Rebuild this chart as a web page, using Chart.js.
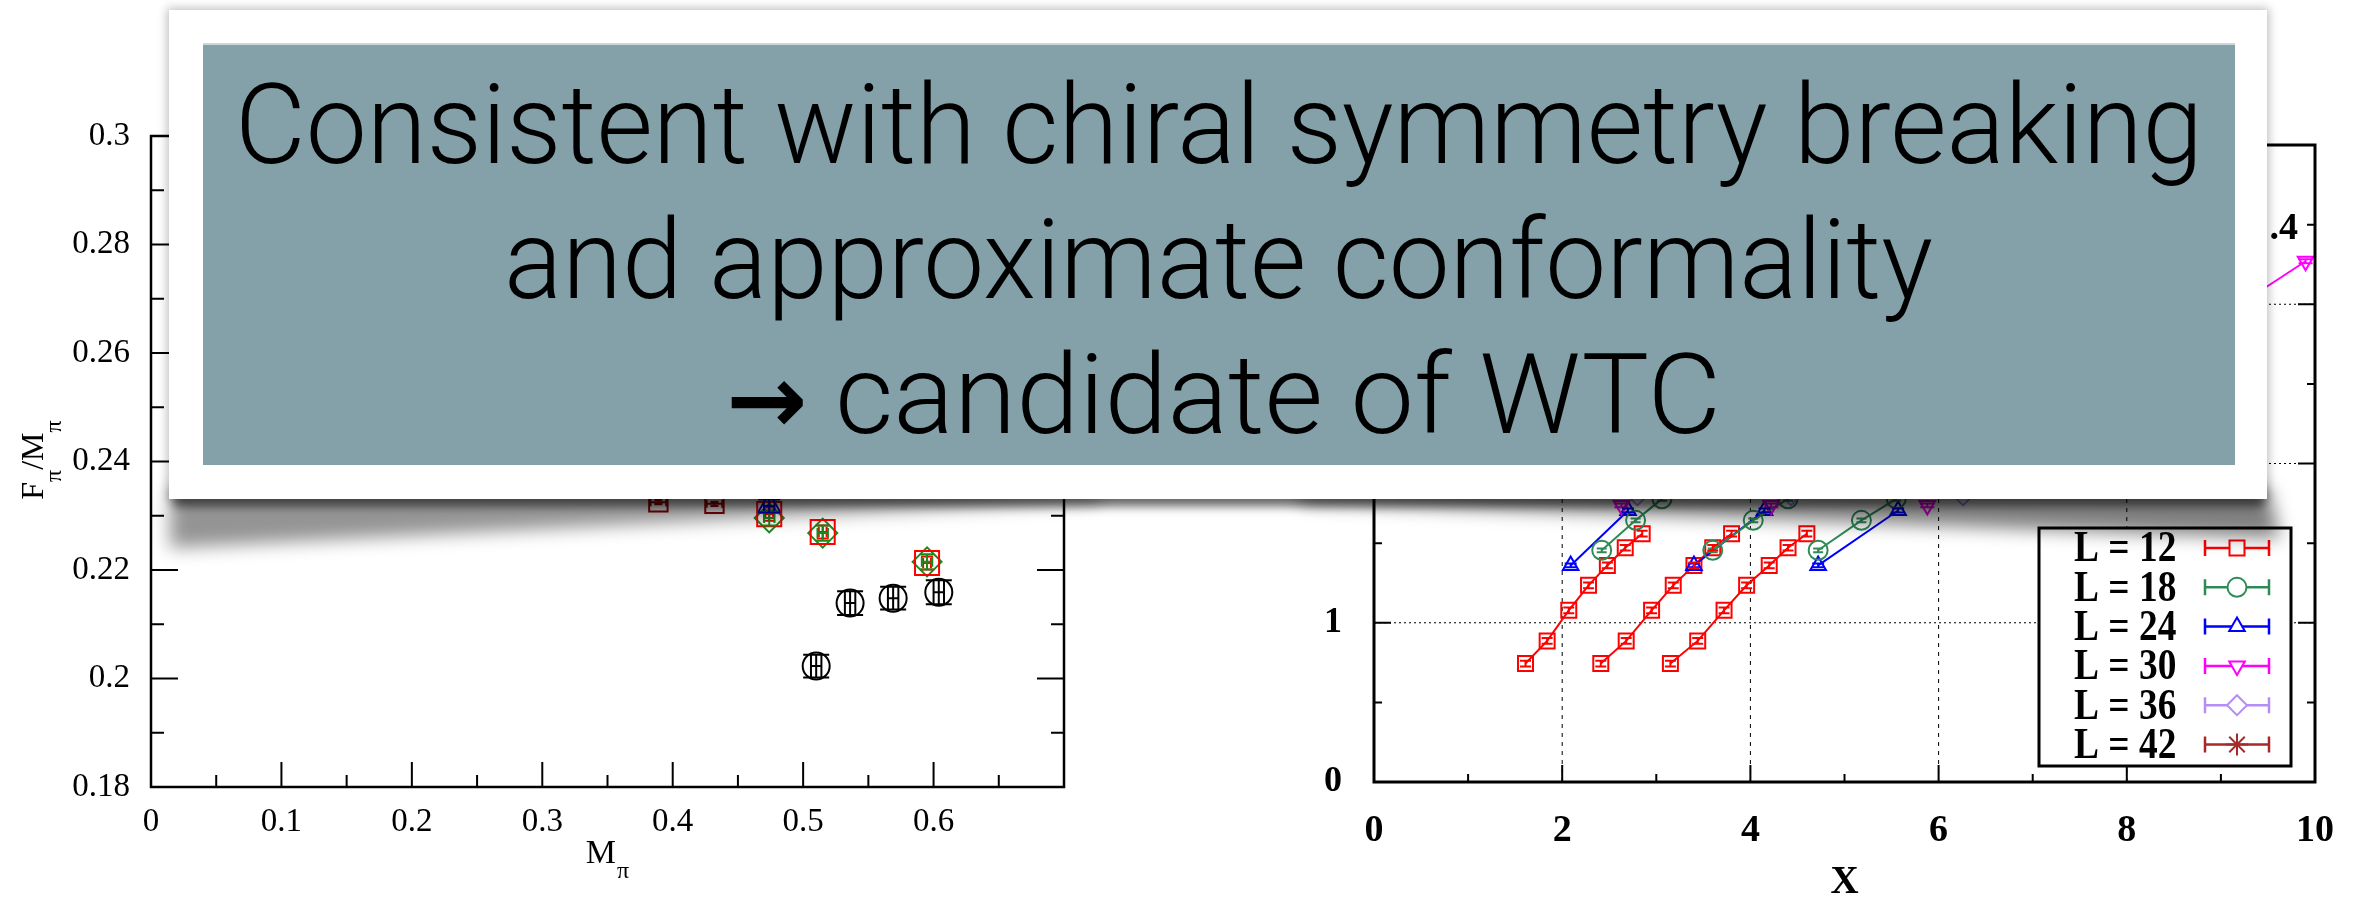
<!DOCTYPE html>
<html>
<head>
<meta charset="utf-8">
<script src="https://cdn.jsdelivr.net/npm/chart.js@4.4.1/dist/chart.umd.min.js"></script>
<style>
  html, body { margin: 0; padding: 0; background: #fff; width: 2372px; height: 897px; overflow: hidden; }
  canvas { position: absolute; top: 0; }
  #left { left: 0; }
  #right { left: 1160px; }
  .wrap { position: absolute; left: 0; top: 0; width: 2372px; height: 897px; }
  .wrap div { position: absolute; left: 0; top: 0; width: 2372px; height: 897px; }
  #frame { position: absolute; left: 169px; top: 10px; width: 2098px; height: 489px; background: #fff;
           box-shadow: 0 0 9px 2px rgba(0,0,0,0.25); }
  #panel { position: absolute; left: 203px; top: 43px; width: 2032px; height: 422px; background: #84a1aa;
           border-top: 2px solid #c9d6da; box-sizing: border-box; }
  .line { position: absolute; left: 0; top: 0; white-space: nowrap; color: #000;
          font-family: Roboto, "Liberation Sans", sans-serif; font-weight: 300; font-size: 112px;
          line-height: 1; transform-origin: 0 0; }
  .arrow { font-family: "DejaVu Sans", sans-serif; font-weight: bold; font-size: 96px; }
</style>
</head>
<body>
<canvas id="left" width="1160" height="897"></canvas>
<canvas id="right" width="1212" height="897"></canvas>

<div class="wrap" style="filter: blur(5px)"><div style="background: rgba(0,0,0,0.5); clip-path: polygon(174px 488px, 2264px 488px, 2264px 507px, 174px 507px)"></div></div>
<div class="wrap" style="filter: blur(9px)"><div style="background: rgba(0,0,0,0.42); clip-path: polygon(170px 488px, 1100px 488px, 1100px 500px, 170px 548px)"></div></div>
<div class="wrap" style="filter: blur(9px)"><div style="background: rgba(0,0,0,0.5); clip-path: polygon(1300px 488px, 2268px 488px, 2280px 538px, 1300px 502px)"></div></div>

<div id="frame"></div>
<div id="panel"></div>
<div class="line" id="l1">Consistent with chiral symmetry breaking</div>
<div class="line" id="l2">and approximate conformality</div>
<div class="line" id="l3"><span class="arrow">→</span> candidate of WTC</div>

<script>
// ---------- left panel: F_pi/M_pi against M_pi ----------
const mpiBlack = [0.510, 0.536, 0.569, 0.604];
const fmBlack = [0.2023, 0.2139, 0.2148, 0.2159];
const errBlack = [0.0021, 0.0022, 0.0021, 0.0022];
const mpiRed = [0.474, 0.515, 0.595];
const fmRed = [0.2303, 0.2270, 0.2213];
const mpiGreen = [0.474, 0.515, 0.595];
const fmGreen = [0.2296, 0.2268, 0.2215];
const mpiBlue = [0.474];
const fmBlue = [0.2318];
const mpiDark = [0.389, 0.432];
const fmDark = [0.2325, 0.2322];
const xTicksLeft = [0, 0.1, 0.2, 0.3, 0.4, 0.5, 0.6, 0.7];
const yTicksLeft = [0.18, 0.2, 0.22, 0.24, 0.26, 0.28, 0.3];

// ---------- right panel: scaling plot against X ----------
const y12 = [0.744, 0.886, 1.078, 1.235, 1.360, 1.471, 1.559];
const x12a = [1.61, 1.84, 2.07, 2.28, 2.48, 2.67, 2.85];
const x12b = [2.41, 2.68, 2.95, 3.18, 3.40, 3.60, 3.80];
const x12c = [3.15, 3.44, 3.72, 3.96, 4.20, 4.40, 4.60];
const y18 = [1.455, 1.643, 1.778];
const x18a = [2.42, 2.78, 3.06];
const x18b = [3.60, 4.03, 4.40];
const x18c = [4.72, 5.18, 5.55];
const y24 = [1.360, 1.705];
const x24a = [2.09, 2.70];
const x24b = [3.40, 4.15];
const x24c = [4.72, 5.57];
const x30 = [2.63, 4.22, 5.88];
const y30 = [1.737, 1.737, 1.737];
const x30top = [8.3, 9.90];
const y30top = [2.65, 3.27];
const x36 = [2.80, 4.43, 6.26];
const y36 = [1.80, 1.80, 1.80];
const xTicksRight = [0, 2, 4, 6, 8, 10];
const yTicksRight = [0, 1, 2, 3, 4];
const legendLabels = ['L = 12', 'L = 18', 'L = 24', 'L = 30', 'L = 36', 'L = 42'];
const legendColors = ['#ff0000', '#2e8b57', '#0000ff', '#ff00ff', '#b68cf5', '#a52a2a'];

const SERIF = '"Liberation Serif", "Times New Roman", serif';

function mkSet(xs, ys, style) {
  return Object.assign({
    data: xs.map((x, i) => ({ x: x, y: ys[i] })),
    pointBackgroundColor: 'rgba(0,0,0,0)',
    pointBorderWidth: 2,
    borderWidth: 2,
    pointHoverRadius: 0,
    fill: false,
    tension: 0
  }, style);
}

// error bars drawn through the chart scales
const errorBars = {
  id: 'errorBars',
  afterDatasetsDraw(chart) {
    const ctx = chart.ctx;
    const xs = chart.scales.x, ys = chart.scales.y;
    chart.data.datasets.forEach((ds, i) => {
      if (!ds.errY && !ds.errX) return;
      const meta = chart.getDatasetMeta(i);
      ctx.save();
      ctx.strokeStyle = ds.borderColor;
      ctx.lineWidth = 2;
      meta.data.forEach((pt, j) => {
        const v = ds.data[j];
        ctx.beginPath();
        if (ds.errY) {
          const e = Array.isArray(ds.errY) ? ds.errY[j] : ds.errY;
          const y1 = ys.getPixelForValue(v.y - e), y2 = ys.getPixelForValue(v.y + e);
          const c = ds.capY / 2;
          ctx.moveTo(pt.x, y1); ctx.lineTo(pt.x, y2);
          ctx.moveTo(pt.x - c, y1); ctx.lineTo(pt.x + c, y1);
          ctx.moveTo(pt.x - c, y2); ctx.lineTo(pt.x + c, y2);
        }
        if (ds.errX) {
          const e = Array.isArray(ds.errX) ? ds.errX[j] : ds.errX;
          const x1 = xs.getPixelForValue(v.x - e), x2 = xs.getPixelForValue(v.x + e);
          const c = ds.capX / 2;
          ctx.moveTo(x1, pt.y); ctx.lineTo(x2, pt.y);
          ctx.moveTo(x1, pt.y - c); ctx.lineTo(x1, pt.y + c);
          ctx.moveTo(x2, pt.y - c); ctx.lineTo(x2, pt.y + c);
        }
        ctx.stroke();
      });
      ctx.restore();
    });
  }
};

function drawTicks(chart, xStep, yStep, xMaj, yMaj, xMin, yMin, frameW) {
  const ctx = chart.ctx, a = chart.chartArea;
  const xs = chart.scales.x, ys = chart.scales.y;
  ctx.save();
  ctx.strokeStyle = '#000';
  ctx.lineWidth = 2;
  ctx.beginPath();
  let k = 0;
  for (let v = xs.min + xStep; v < xs.max - xStep / 10; v += xStep, k++) {
    const p = xs.getPixelForValue(v);
    const len = (k % 2 === 1) ? xMaj : xMin;
    ctx.moveTo(p, a.bottom); ctx.lineTo(p, a.bottom - len);
    ctx.moveTo(p, a.top); ctx.lineTo(p, a.top + len);
  }
  k = 0;
  for (let v = ys.min + yStep; v < ys.max - yStep / 10; v += yStep, k++) {
    const p = ys.getPixelForValue(v);
    const len = (k % 2 === 1) ? yMaj : yMin;
    ctx.moveTo(a.left, p); ctx.lineTo(a.left + len, p);
    ctx.moveTo(a.right, p); ctx.lineTo(a.right - len, p);
  }
  ctx.stroke();
  ctx.lineWidth = frameW;
  ctx.strokeRect(a.left, a.top, a.right - a.left, a.bottom - a.top);
  ctx.restore();
}

const leftFrame = {
  id: 'leftFrame',
  afterDraw(chart) {
    drawTicks(chart, 0.05, 0.01, 25, 27, 12, 13, 2.5);
    const ctx = chart.ctx;
    ctx.save();
    ctx.fillStyle = '#000';
    ctx.textBaseline = 'alphabetic';
    // x title M_pi
    ctx.font = '34px ' + SERIF;
    const wM = ctx.measureText('M').width;
    ctx.font = '24px ' + SERIF;
    const wP = ctx.measureText('π').width;
    const cx = 607 - (wM + wP) / 2;
    ctx.font = '34px ' + SERIF;
    ctx.fillText('M', cx, 863);
    ctx.font = '24px ' + SERIF;
    ctx.fillText('π', cx + wM + 1, 878);
    // y title F_pi / M_pi
    ctx.translate(43, 460);
    ctx.rotate(-Math.PI / 2);
    const parts = [['F', 32, 0], ['π', 24, 18], ['/M', 32, 0], ['π', 24, 18]];
    let total = 0;
    parts.forEach(p => { ctx.font = p[1] + 'px ' + SERIF; total += ctx.measureText(p[0]).width; });
    let u = -total / 2;
    parts.forEach(p => {
      ctx.font = p[1] + 'px ' + SERIF;
      ctx.fillText(p[0], u, p[2]);
      u += ctx.measureText(p[0]).width;
    });
    ctx.restore();
  }
};

const rightFrame = {
  id: 'rightFrame',
  beforeDatasetsDraw(chart) {
    const ctx = chart.ctx, a = chart.chartArea;
    const xs = chart.scales.x, ys = chart.scales.y;
    ctx.save();
    ctx.strokeStyle = '#000';
    ctx.lineWidth = 1;
    ctx.setLineDash([4, 5]);
    ctx.beginPath();
    xTicksRight.slice(1, -1).forEach(v => {
      const p = xs.getPixelForValue(v);
      ctx.moveTo(p, a.bottom); ctx.lineTo(p, a.top);
    });
    ctx.stroke();
    ctx.setLineDash([2, 3]);
    ctx.beginPath();
    yTicksRight.slice(1, -1).forEach(v => {
      const p = ys.getPixelForValue(v);
      ctx.moveTo(a.left, p); ctx.lineTo(a.right, p);
    });
    ctx.stroke();
    ctx.restore();
  },
  afterDraw(chart) {
    drawTicks(chart, 1, 0.5, 17, 17, 8, 8, 3);
    const ctx = chart.ctx, a = chart.chartArea;
    const xs = chart.scales.x, ys = chart.scales.y;
    ctx.save();
    ctx.fillStyle = '#000';
    ctx.font = 'bold 39px ' + SERIF;
    ctx.textAlign = 'center';
    ctx.textBaseline = 'alphabetic';
    ctx.fillText('X', (a.left + a.right) / 2, 893);
    // annotation partly hidden by the slide box
    ctx.font = 'bold 38px ' + SERIF;
    ctx.textAlign = 'right';
    ctx.fillText('.4', xs.getPixelForValue(9.82), ys.getPixelForValue(3.41));
    // legend
    const bx = a.right - 24 - 252, by = a.bottom - 16 - 238;
    ctx.fillStyle = '#fff';
    ctx.fillRect(bx, by, 252, 238);
    ctx.strokeStyle = '#000';
    ctx.lineWidth = 3;
    ctx.strokeRect(bx, by, 252, 238);
    const styles = [
      { pointStyle: 'rect', radius: 10.6 }, { pointStyle: 'circle', radius: 9.5 },
      { pointStyle: 'triangle', radius: 9 }, { pointStyle: 'triangle', radius: 9, rotation: 180 },
      { pointStyle: 'rectRot', radius: 10 }, { pointStyle: 'star', radius: 11 }
    ];
    legendLabels.forEach((lab, i) => {
      const ry = by + 20 + i * 39.3;
      ctx.save();
      ctx.fillStyle = '#000';
      ctx.font = 'bold 44px ' + SERIF;
      ctx.textAlign = 'left';
      ctx.textBaseline = 'middle';
      ctx.translate(bx + 35, ry + 2);
      ctx.scale(0.85, 1);
      ctx.fillText(lab, 0, 0);
      ctx.restore();
      ctx.strokeStyle = legendColors[i];
      ctx.lineWidth = 2.5;
      ctx.beginPath();
      ctx.moveTo(bx + 166, ry); ctx.lineTo(bx + 230, ry);
      ctx.moveTo(bx + 166, ry - 8); ctx.lineTo(bx + 166, ry + 8);
      ctx.moveTo(bx + 230, ry - 8); ctx.lineTo(bx + 230, ry + 8);
      ctx.stroke();
      ctx.fillStyle = '#fff';
      ctx.lineWidth = 2;
      Chart.helpers.drawPoint(ctx, Object.assign({ borderWidth: 2, rotation: 0 }, styles[i]), bx + 198, ry);
    });
    ctx.restore();
  }
};

const common = {
  responsive: false,
  animation: false,
  devicePixelRatio: 1,
  events: [],
  plugins: { legend: { display: false }, tooltip: { enabled: false } }
};

new Chart(document.getElementById('left'), {
  type: 'scatter',
  data: {
    datasets: [
      mkSet(mpiBlack, fmBlack, { borderColor: '#000', pointBorderColor: '#000', pointStyle: 'circle', pointRadius: 13.5,
        showLine: false, errY: errBlack, errX: 0.004, capY: 26, capX: 22 }),
      mkSet(mpiRed, fmRed, { borderColor: '#ff0000', pointBorderColor: '#ff0000', pointStyle: 'rect', pointRadius: 17,
        showLine: false, errY: 0.0012, errX: 0.003, capY: 12, capX: 10 }),
      mkSet(mpiGreen, fmGreen, { borderColor: '#1b8a1b', pointBorderColor: '#1b8a1b', pointStyle: 'rectRot', pointRadius: 14.5,
        showLine: false, errY: 0.0014, errX: 0.004, capY: 14, capX: 10 }),
      mkSet(mpiBlue, fmBlue, { borderColor: '#0000cc', pointBorderColor: '#0000cc', pointStyle: 'triangle', pointRadius: 13,
        showLine: false, errY: 0.0012, errX: 0.004, capY: 22, capX: 10 }),
      mkSet(mpiDark, fmDark, { borderColor: '#a00000', pointBorderColor: '#a00000', pointStyle: 'rect', pointRadius: 13,
        showLine: false, errY: 0.0004, errX: 0.006, capY: 8, capX: 8 })
    ]
  },
  options: Object.assign({}, common, {
    layout: { padding: { top: 136, right: 96, left: 0, bottom: 0 } },
    scales: {
      x: {
        type: 'linear', min: 0, max: 0.7,
        grid: { display: false }, border: { display: false },
        afterBuildTicks: s => { s.ticks = xTicksLeft.map(v => ({ value: v })); },
        afterFit: s => { s.height = 110; },
        ticks: { color: '#000', font: { family: SERIF, size: 33 }, padding: 8, autoSkip: false, maxRotation: 0,
          callback: v => (v >= 0.69 ? '' : String(v)) }
      },
      y: {
        type: 'linear', min: 0.18, max: 0.3,
        grid: { display: false }, border: { display: false },
        afterBuildTicks: s => { s.ticks = yTicksLeft.map(v => ({ value: v })); },
        afterFit: s => { s.width = 151; },
        ticks: { color: '#000', font: { family: SERIF, size: 33 }, padding: 13, autoSkip: false,
          callback: v => String(v) }
      }
    }
  }),
  plugins: [leftFrame, errorBars]
});

const red = { borderColor: '#ff0000', pointBorderColor: '#ff0000', pointStyle: 'rect', pointRadius: 10.6, showLine: true, errY: 0.018, capY: 11 };
const green = { borderColor: '#2e8b57', pointBorderColor: '#2e8b57', pointStyle: 'circle', pointRadius: 9.5, showLine: true, errY: 0.012, capY: 10 };
const blue = { borderColor: '#0000ff', pointBorderColor: '#0000ff', pointStyle: 'triangle', pointRadius: 9, showLine: true, errY: 0.012, capY: 12 };
const magenta = { borderColor: '#ff00ff', pointBorderColor: '#ff00ff', pointStyle: 'triangle', pointRotation: 180, pointRadius: 9, showLine: true, errY: 0.012, capY: 14 };
const lavender = { borderColor: '#b68cf5', pointBorderColor: '#b68cf5', pointStyle: 'rectRot', pointRadius: 10, showLine: false };

new Chart(document.getElementById('right'), {
  type: 'scatter',
  data: {
    datasets: [
      mkSet(x36, y36, lavender),
      mkSet(x30, y30, Object.assign({}, magenta, { showLine: false })),
      mkSet(x30top, y30top, magenta),
      mkSet(x18a, y18, green), mkSet(x18b, y18, green), mkSet(x18c, y18, green),
      mkSet(x24a, y24, blue), mkSet(x24b, y24, blue), mkSet(x24c, y24, blue),
      mkSet(x12a, y12, red), mkSet(x12b, y12, red), mkSet(x12c, y12, red)
    ]
  },
  options: Object.assign({}, common, {
    layout: { padding: { top: 145, right: 57, left: 0, bottom: 0 } },
    scales: {
      x: {
        type: 'linear', min: 0, max: 10,
        grid: { display: false }, border: { display: false },
        afterBuildTicks: s => { s.ticks = xTicksRight.map(v => ({ value: v })); },
        afterFit: s => { s.height = 115; },
        ticks: { color: '#000', font: { family: SERIF, size: 38, weight: 'bold' }, padding: 18, autoSkip: false, maxRotation: 0,
          callback: v => String(v) }
      },
      y: {
        type: 'linear', min: 0, max: 4,
        grid: { display: false }, border: { display: false },
        afterBuildTicks: s => { s.ticks = yTicksRight.map(v => ({ value: v })); },
        afterFit: s => { s.width = 214; },
        ticks: { color: '#000', font: { family: SERIF, size: 36, weight: 'bold' }, padding: 24, autoSkip: false,
          callback: v => String(v) }
      }
    }
  }),
  plugins: [rightFrame, errorBars]
});

// ---------- slide text over the plots ----------
const textLines = [
  { id: 'l1', left: 235, right: 2203, base: 163 },
  { id: 'l2', left: 504, right: 1933, base: 298 },
  { id: 'l3', left: 726, right: 1721, base: 433 }
];
function placeText() {
  textLines.forEach(t => {
    const el = document.getElementById(t.id);
    const probe = document.createElement('span');
    probe.style.display = 'inline-block';
    probe.style.width = '0';
    probe.style.height = '0';
    el.appendChild(probe);
    const r = el.getBoundingClientRect();
    const off = probe.getBoundingClientRect().top - r.top;
    el.style.left = t.left + 'px';
    el.style.top = (t.base - off) + 'px';
    el.style.transform = 'scaleX(' + ((t.right - t.left) / r.width) + ')';
  });
}
if (document.fonts && document.fonts.ready) document.fonts.ready.then(placeText); else placeText();
</script>
</body>
</html>
